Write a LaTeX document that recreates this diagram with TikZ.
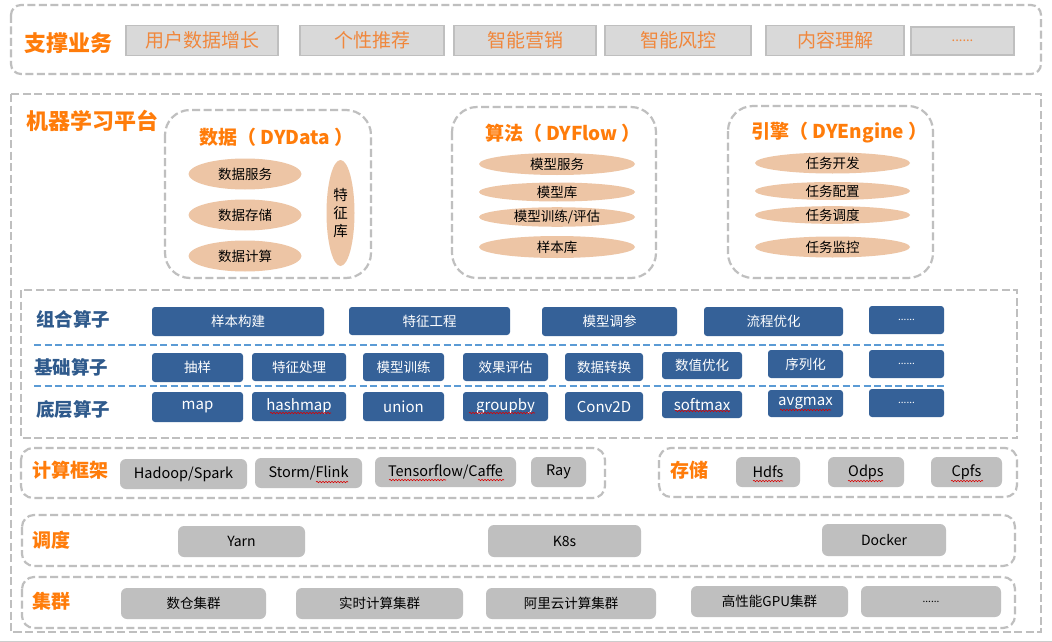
\documentclass[tikz,border=0pt]{standalone}
\usepackage{fontspec}
\setmainfont{Noto Sans CJK SC}
\usetikzlibrary{shapes.geometric,decorations.pathmorphing}
\definecolor{frameg}{RGB}{191,191,191}
\definecolor{boxg}{RGB}{217,217,217}
\definecolor{grayb}{RGB}{191,191,191}
\definecolor{orgT}{RGB}{255,124,10}
\definecolor{orgL}{RGB}{240,135,60}
\definecolor{peach}{RGB}{237,197,165}
\definecolor{bluebox}{RGB}{53,97,152}
\definecolor{bluelbl}{RGB}{47,90,140}
\definecolor{bluedash}{RGB}{91,155,213}
\tikzset{
  dframe/.style={draw=frameg, line width=2.2pt, dash pattern=on 8pt off 3.5pt},
  ttl/.style={anchor=west, text=orgT, font=\fontsize{22}{26}\selectfont\bfseries, inner sep=0pt},
  sttl/.style={anchor=west, text=orgT, font=\fontsize{19}{23}\selectfont\bfseries, inner sep=0pt},
  htl/.style={text=orgT, font=\fontsize{19}{23}\selectfont\bfseries, inner sep=0pt},
  lbl/.style={anchor=west, text=bluelbl, font=\fontsize{18.5}{22}\selectfont\bfseries, inner sep=0pt},
  tb/.style={draw=frameg, fill=boxg, line width=1.2pt, text=orgL, font=\fontsize{19}{23}\selectfont, inner sep=0pt},
  ell/.style={ellipse, fill=peach, draw=none, inner sep=0pt, font=\fontsize{13.5}{16}\selectfont},
  bb/.style={fill=bluebox, rounded corners=3pt, text=white, inner sep=0pt, font=\fontsize{13.5}{16}\selectfont},
  bbl/.style={bb, font=\fontsize{15}{18}\selectfont},
  bbd/.style={bb, font=\fontsize{10}{12}\selectfont},
  gb/.style={fill=grayb, rounded corners=6pt, inner sep=0pt, font=\fontsize{14.5}{17}\selectfont},
  squig/.style={draw=red!85!black, line width=0.6pt, decorate, decoration={snake, amplitude=0.7pt, segment length=3pt}},
  bdash/.style={draw=bluedash, line width=2pt, dash pattern=on 7pt off 3.5pt}
}
\begin{document}
\begin{tikzpicture}[x=1pt,y=-1pt]
\useasboundingbox (0,0) rectangle (1052,642);
\fill[white] (0,0) rectangle (1052,642);
\draw[line width=1pt, draw=frameg!80] (0,641.5) -- (1052,641.5);

% top business frame
\draw[dframe, rounded corners=10pt] (11,5) rectangle (1041,74);
\node[ttl] (biz) at (24,43) {支撑业务};
\node[tb, minimum width=152, minimum height=30] (u1) at (202,40.5) {用户数据增长};
\node[tb, minimum width=144, minimum height=30] (u2) at (372,40.5) {个性推荐};
\node[tb, minimum width=142, minimum height=30] (u3) at (525,40.5) {智能营销};
\node[tb, minimum width=146, minimum height=30] (u4) at (678,40.5) {智能风控};
\node[tb, minimum width=138, minimum height=30] (u5) at (835,40.5) {内容理解};
\node[tb, minimum width=103, minimum height=28, font=\fontsize{13}{15}\selectfont] (u6) at (962.5,41) {......};

% ML platform frame
\draw[dframe] (11,94) rectangle (1041,632);
\node[ttl] (mlp) at (26,121) {机器学习平台};

% DYData
\draw[dframe, rounded corners=25pt] (165,110) rectangle (371,278);
\node[htl] (dyd) at (276.5,137) {数据（\hspace{4pt}DYData\hspace{4pt}）};
\node[ell, minimum width=113, minimum height=31] (d1) at (245,174) {数据服务};
\node[ell, minimum width=113, minimum height=31] (d2) at (245,215) {数据存储};
\node[ell, minimum width=113, minimum height=31] (d3) at (245,256) {数据计算};
\node[ell, minimum width=28, minimum height=106, align=center, font=\fontsize{14.5}{18}\selectfont] (d4) at (340.5,213) {特\\征\\库};

% DYFlow
\draw[dframe, rounded corners=25pt] (452,107) rectangle (656,278);
\node[htl] (dyf) at (563,133) {算法（\hspace{4pt}DYFlow\hspace{4pt}）};
\node[ell, minimum width=156, minimum height=22] (f1) at (557,164) {模型服务};
\node[ell, minimum width=156, minimum height=19] (f2) at (557,192) {模型库};
\node[ell, minimum width=156, minimum height=18] (f3) at (557,217) {模型训练/评估};
\node[ell, minimum width=156, minimum height=22] (f4) at (557,247) {样本库};

% DYEngine
\draw[dframe, rounded corners=25pt] (728,106) rectangle (933,278);
\node[htl] (dye) at (839.5,133) {引擎（\hspace{4pt}DYEngine\hspace{4pt}）};
\node[ell, minimum width=155, minimum height=21] (e1) at (832.5,163) {任务开发};
\node[ell, minimum width=155, minimum height=18] (e2) at (832.5,191) {任务配置};
\node[ell, minimum width=155, minimum height=17] (e3) at (832.5,215) {任务调度};
\node[ell, minimum width=155, minimum height=21] (e4) at (832.5,247) {任务监控};

% operators frame
\draw[dframe] (21,290) rectangle (1017,438);
\draw[bdash] (34,345) -- (947,345);
\draw[bdash] (34,386) -- (947,386);
\node[lbl] (l1) at (36,319) {组合算子};
\node[lbl] (l2) at (34,367) {基础算子};
\node[lbl] (l3) at (36,409) {底层算子};

\node[bb, minimum width=172, minimum height=29] (a1) at (238,321.5) {样本构建};
\node[bb, minimum width=161, minimum height=28] (a2) at (429.5,321) {特征工程};
\node[bb, minimum width=135, minimum height=29] (a3) at (609.5,321.5) {模型调参};
\node[bb, minimum width=139, minimum height=29] (a4) at (773.5,321.5) {流程优化};
\node[bbd, minimum width=75, minimum height=28] (a5) at (906.5,320) {......};

\node[bb, minimum width=91, minimum height=29] (b1) at (197.5,367.5) {抽样};
\node[bb, minimum width=94, minimum height=28] (b2) at (299,367) {特征处理};
\node[bb, minimum width=81, minimum height=28] (b3) at (403.5,367) {模型训练};
\node[bb, minimum width=85, minimum height=28] (b4) at (505.5,367) {效果评估};
\node[bb, minimum width=78, minimum height=28] (b5) at (604,367) {数据转换};
\node[bb, minimum width=80, minimum height=27] (b6) at (702,365.5) {数值优化};
\node[bb, minimum width=75, minimum height=28] (b7) at (805.5,364) {序列化};
\node[bbd, minimum width=75, minimum height=28] (b8) at (906.5,364) {......};

\node[bbl, minimum width=91, minimum height=30] (c1) at (197.5,407) {map};
\node[bbl, minimum width=94, minimum height=29] (c2) at (299,406.5) {hashmap};
\node[bbl, minimum width=81, minimum height=29] (c3) at (403.5,406.5) {union};
\node[bbl, minimum width=85, minimum height=29] (c4) at (505.5,406.5) {groupby};
\node[bbl, minimum width=78, minimum height=29] (c5) at (604,406.5) {Conv2D};
\node[bbl, minimum width=80, minimum height=27] (c6) at (702,404.5) {softmax};
\node[bbl, minimum width=75, minimum height=27] (c7) at (805.5,403.5) {avgmax};
\node[bbd, minimum width=75, minimum height=28] (c8) at (906.5,403) {......};
\draw[squig] (270,413) -- (331,413);
\draw[squig] (469,413) -- (535,413);
\draw[squig] (675,411) -- (730,411);
\draw[squig] (780,410) -- (831,410);

% compute frame
\draw[dframe, rounded corners=12pt] (21,448) rectangle (605,498);
\node[sttl] (cf) at (32,470) {计算框架};
\node[gb, minimum width=127, minimum height=30] (g1) at (183.5,474) {Hadoop/Spark};
\node[gb, minimum width=107, minimum height=30] (g2) at (308.5,473) {Storm/Flink};
\node[gb, minimum width=141, minimum height=30] (g3) at (445.5,472) {Tensorflow/Caffe};
\node[gb, minimum width=55, minimum height=30] (g4) at (558.5,472) {Ray};
\draw[squig] (316,482) -- (348,482);
\draw[squig] (389,480) -- (446,480);
\draw[squig] (478,480) -- (504,480);

% storage frame
\draw[dframe, rounded corners=12pt] (659,448) rectangle (1017,497);
\node[sttl] (st) at (670,470) {存储};
\node[gb, minimum width=64, minimum height=30] (s1) at (768,472) {Hdfs};
\node[gb, minimum width=76, minimum height=30] (s2) at (866,472) {Odps};
\node[gb, minimum width=71, minimum height=30] (s3) at (966.5,472) {Cpfs};
\draw[squig] (753,481) -- (783,481);
\draw[squig] (848,481) -- (883,481);
\draw[squig] (951,481) -- (983,481);

% scheduling frame
\draw[dframe, rounded corners=12pt] (22,515) rectangle (1015,566);
\node[sttl] (sc) at (32,540) {调度};
\node[gb, minimum width=127, minimum height=31, font=\fontsize{14}{17}\selectfont] (y1) at (241.5,541.5) {Yarn};
\node[gb, minimum width=153, minimum height=32, font=\fontsize{14}{17}\selectfont] (y2) at (564.5,541) {K8s};
\node[gb, minimum width=124, minimum height=32, font=\fontsize{14}{17}\selectfont] (y3) at (884,540) {Docker};

% cluster frame
\draw[dframe, rounded corners=12pt] (22,577) rectangle (1015,628);
\node[sttl] (cl) at (32,601) {集群};
\node[gb, minimum width=145, minimum height=31, font=\fontsize{13.5}{16}\selectfont] (k1) at (193.5,603.5) {数仓集群};
\node[gb, minimum width=167, minimum height=31, font=\fontsize{13.5}{16}\selectfont] (k2) at (379.5,603.5) {实时计算集群};
\node[gb, minimum width=170, minimum height=31, font=\fontsize{13.5}{16}\selectfont] (k3) at (571,603.5) {阿里云计算集群};
\node[gb, minimum width=157, minimum height=31, font=\fontsize{13.5}{16}\selectfont] (k4) at (769.5,601.5) {高性能GPU集群};
\node[gb, minimum width=140, minimum height=31, font=\fontsize{10}{12}\selectfont] (k5) at (931,601.5) {......};
\end{tikzpicture}
\end{document}
